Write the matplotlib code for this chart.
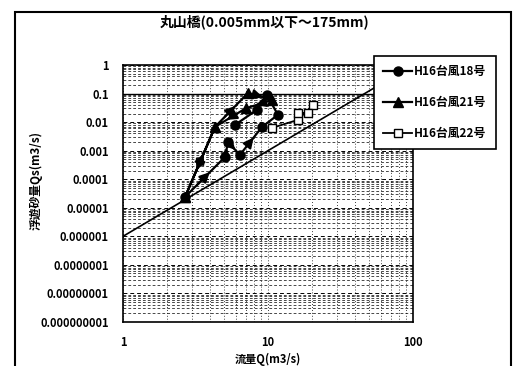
import matplotlib
matplotlib.use("Agg")
import matplotlib.pyplot as plt
import matplotlib.patches as mpatches
import matplotlib.ticker as mticker
import numpy as np

plt.rcParams['font.family'] = ['Noto Sans CJK JP', 'DejaVu Sans']
plt.rcParams['font.weight'] = 'bold'

# ------------------------------------------------------------------
# Data
# ------------------------------------------------------------------
title = "丸山橋(0.005mm以下～175mm)"
xlabel = "流量Q(m3/s)"
ylabel = "浮遊砂量Qs(m3/s)"

q18 = [2.68, 5.05, 5.3, 6.4, 9.1, 11.7, 9.84, 8.4, 5.9]
qs18 = [2.4e-5, 6.0e-4, 2.0e-3, 7.1e-4, 6.8e-3, 1.8e-2, 8.9e-2, 2.7e-2, 7.9e-3]
label18 = "H16台風18号"

q21 = [2.68, 4.31, 7.28, 10.7, 7.0, 4.31, 2.68]
qs21 = [2.4e-5, 6.8e-3, 0.105, 6.0e-2, 3.0e-2, 6.8e-3, 2.4e-5]
label21 = "H16台風21号"

q22 = [10.7, 16.1, 20.4, 18.9, 16.1]
qs22 = [6.3e-3, 1.2e-2, 4.0e-2, 2.1e-2, 2.1e-2]
label22 = "H16台風22号"

# reference line
line_q = [1, 100]
line_qs = [1e-6, 1]

xticks = [1, 10, 100]
yticks = [1e-9, 1e-8, 1e-7, 1e-6, 1e-5, 1e-4, 1e-3, 1e-2, 1e-1, 1]


def _ylab(v, pos=None):
    n = int(round(-np.log10(v)))
    return "1" if n <= 0 else f"{v:.{n}f}"


def _arrows(ax, xs, ys):
    """Arrow head part-way along each segment (in log space)."""
    lx, ly = np.log10(xs), np.log10(ys)
    for i in range(len(xs) - 1):
        a = (10 ** (lx[i] + 0.3 * (lx[i + 1] - lx[i])),
             10 ** (ly[i] + 0.3 * (ly[i + 1] - ly[i])))
        b = (10 ** (lx[i] + 0.62 * (lx[i + 1] - lx[i])),
             10 ** (ly[i] + 0.62 * (ly[i + 1] - ly[i])))
        ax.annotate("", xy=b, xytext=a,
                    arrowprops=dict(arrowstyle="-|>", color="k", lw=1.5,
                                    mutation_scale=15, shrinkA=0, shrinkB=0),
                    zorder=6)


fig = plt.figure(figsize=(5.17, 3.66), dpi=100)
ax = fig.add_axes([123 / 517, 1 - 322 / 366, 290 / 517, 257 / 366])
ax.set_xscale("log")
ax.set_yscale("log")
ax.set_xlim(1, 100)
ax.set_ylim(1e-9, 1)

# grid
ax.yaxis.set_minor_locator(mticker.LogLocator(base=10, subs=np.arange(2, 10), numticks=100))
ax.xaxis.set_minor_locator(mticker.LogLocator(base=10, subs=np.arange(2, 10), numticks=100))
ax.grid(True, which="major", axis="y", color="k", lw=0.7, linestyle=(0, (4, 3)))
ax.grid(True, which="minor", axis="y", color="k", lw=0.5, linestyle=(0, (4, 3)))
ax.grid(True, which="both", axis="x", color="k", lw=0.6, linestyle=(0, (1, 2.5)))
ax.axhline(0.1, color="k", lw=1.0, zorder=2)

ax.plot(line_q, line_qs, color="k", lw=1.2, zorder=3)

ax.plot(q18, qs18, color="k", lw=1.6, marker="o", ms=6.5, label=label18, zorder=5)
ax.plot(q21, qs21, color="k", lw=1.6, marker="^", ms=6.5, label=label21, zorder=5)
ax.plot(q22, qs22, color="k", lw=1.3, marker="s", ms=6, mfc="white", mec="k",
        label=label22, zorder=5)
_arrows(ax, q18[:5], qs18[:5])
_arrows(ax, q21, qs21)

ax.set_xticks(xticks)
ax.xaxis.set_major_formatter(mticker.FuncFormatter(lambda v, p: f"{v:g}"))
ax.set_yticks(yticks)
ax.yaxis.set_major_formatter(mticker.FuncFormatter(_ylab))
ax.tick_params(which="both", length=0, labelsize=8)
ax.tick_params(axis="y", pad=10)
ax.tick_params(axis="x", pad=10)
for s in ax.spines.values():
    s.set_linewidth(1.2)

# axis titles placed in figure pixels, as in the reference
fig.text(268 / 517, 1 - 359 / 366, xlabel, ha="center", va="center",
         fontsize=8, fontweight="bold")
fig.text(36 / 517, 1 - 180 / 366, ylabel, ha="center", va="center",
         rotation=90, fontsize=8.5, fontweight="bold")
fig.text(265 / 517, 1 - 22 / 366, title, ha="center", va="center",
         fontsize=10, fontweight="bold")

leg = ax.legend(loc="upper left", bbox_to_anchor=(368 / 517, 1 - 50 / 366),
                bbox_transform=fig.transFigure, fontsize=8.5, frameon=True,
                fancybox=False, framealpha=1, edgecolor="k", labelspacing=1.5,
                handlelength=2.4, borderpad=0.8, handletextpad=0.2)
leg.get_frame().set_linewidth(1.2)
leg.set_zorder(10)

# outer chart border
fig.patches.append(mpatches.Rectangle((15 / 517, -0.02), 496 / 517, 1 - 12 / 366 + 0.02,
                                      transform=fig.transFigure, fill=False,
                                      edgecolor="k", lw=1.5))

fig.savefig("out.png", dpi=100)
